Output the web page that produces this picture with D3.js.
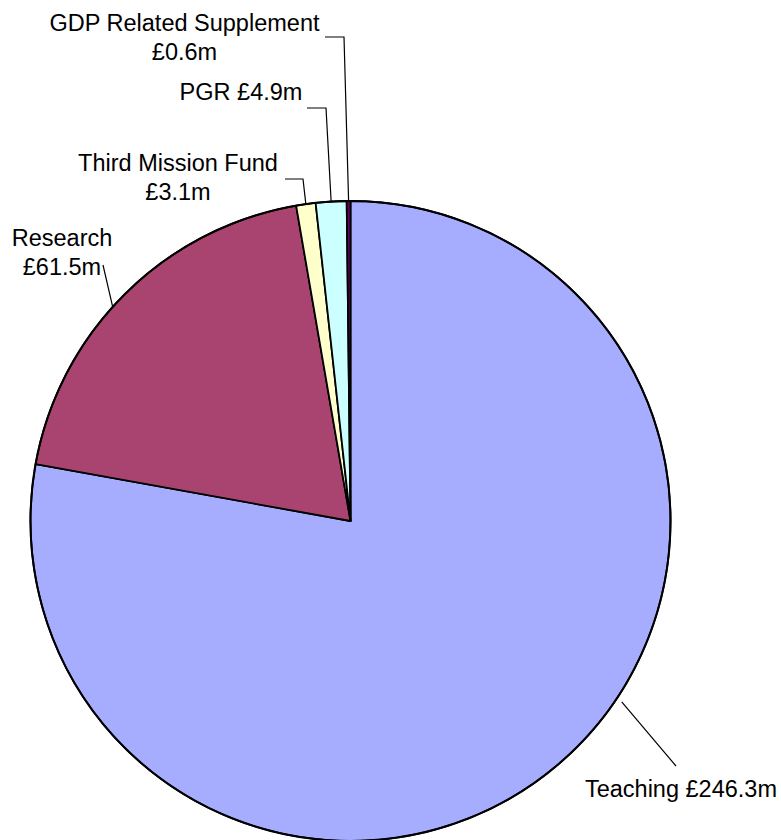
<!DOCTYPE html>
<html>
<head>
<meta charset="utf-8">
<script src="https://cdn.jsdelivr.net/npm/d3@7"></script>
<style>
  html, body { margin: 0; padding: 0; background: #fff; }
  svg { display: block; }
  text { font-family: "Liberation Sans", Arial, sans-serif; font-size: 23.5px; fill: #000; }
</style>
</head>
<body>
<svg id="chart" width="781" height="840"></svg>
<script>
// ---- data ----
const categories = ["Teaching", "Research", "Third Mission Fund", "PGR", "GDP Related Supplement"];
const values = [246.3, 61.5, 3.1, 4.9, 0.6];
const labelLines = [
  ["Teaching £246.3m"],
  ["Research", "£61.5m"],
  ["Third Mission Fund", "£3.1m"],
  ["PGR £4.9m"],
  ["GDP Related Supplement", "£0.6m"]
];
const colors = ["#A6ADFF", "#A8446F", "#FFFFCC", "#CCFFFF", "#660066"];

// ---- layout ----
const W = 781, H = 840;
const cx = 350.5, cy = 521, R = 320;
// label placement: x (centre), baseline of first line, line height
const labelPos = [
  { x: 678, y: 797 },
  { x: 62, y: 246 },
  { x: 178, y: 171 },
  { x: 241, y: 100 },
  { x: 184.5, y: 31 }
];
const lineH = 29;
// leader lines: start point(s) near label, then point on the pie at an angle (deg) and radius
const leaders = [
  { pts: [[676, 766]], angle: 123.7, r: 326 },
  { pts: [[103, 265]], angle: 312, r: 320 },
  { pts: [[285, 179], [303, 179]], angle: null, r: 320 },
  { pts: [[307, 108], [326, 108]], angle: null, r: 320 },
  { pts: [[325, 37], [344, 37]], angle: null, r: 320 }
];

const svg = d3.select("#chart");
const g = svg.append("g").attr("transform", `translate(${cx},${cy})`);

const data = categories.map((c, i) => ({ name: c, value: values[i], i }));
const pie = d3.pie().value(d => d.value).sort(null).startAngle(0).endAngle(2 * Math.PI);
const arcs = pie(data);
const arc = d3.arc().innerRadius(0).outerRadius(R);

g.selectAll("path.slice")
  .data(arcs)
  .enter().append("path")
  .attr("class", "slice")
  .attr("d", arc)
  .attr("fill", (d, i) => colors[i])
  .attr("stroke", "#000")
  .attr("stroke-width", 1.8)
  .attr("stroke-linejoin", "round");

// outer rim
g.append("circle").attr("r", R).attr("fill", "none").attr("stroke", "#000").attr("stroke-width", 2);

// leader lines
function polar(angDeg, r) {
  const a = angDeg * Math.PI / 180;
  return [cx + r * Math.sin(a), cy - r * Math.cos(a)];
}
const line = d3.line();
arcs.forEach((d, i) => {
  const L = leaders[i];
  const ang = L.angle != null ? L.angle : ((d.startAngle + d.endAngle) / 2) * 180 / Math.PI;
  const end = polar(ang, L.r);
  svg.append("path")
    .attr("d", line(L.pts.concat([end])))
    .attr("fill", "none")
    .attr("stroke", "#000")
    .attr("stroke-width", 1.2);
});

// labels
labelLines.forEach((lines, i) => {
  const p = labelPos[i];
  const t = svg.append("text")
    .attr("text-anchor", i === 0 ? "end" : "middle");
  lines.forEach((s, k) => {
    t.append("tspan").attr("x", i === 0 ? 777 : p.x).attr("y", p.y + k * lineH).text(s);
  });
});
</script>
</body>
</html>
